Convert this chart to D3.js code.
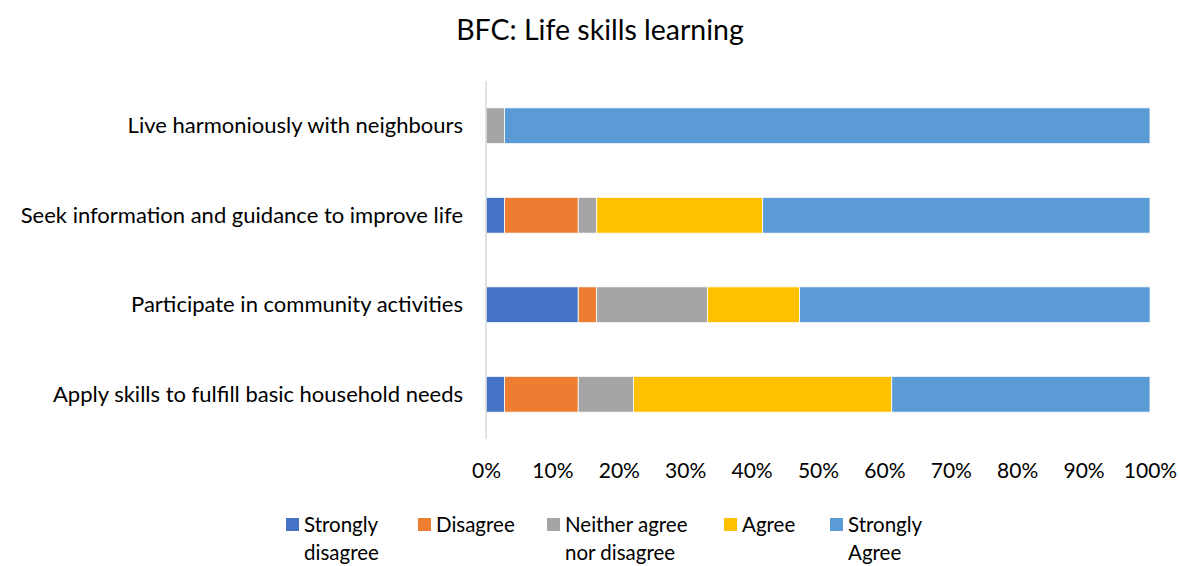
<!DOCTYPE html>
<html>
<head>
<meta charset="utf-8">
<script src="https://cdn.jsdelivr.net/npm/d3@7"></script>
<style>
  html, body { margin: 0; padding: 0; background: #fff; }
  svg { display: block; font-family: Lato, "Open Sans", sans-serif; }
</style>
</head>
<body>
<svg id="chart" width="1179" height="566"></svg>
<script>
// Survey statements (top to bottom) and response shares in percent
const categories = [
  "Live harmoniously with neighbours",
  "Seek information and guidance to improve life",
  "Participate in community activities",
  "Apply skills to fulfill basic household needs"
];
const seriesNames = ["Strongly disagree", "Disagree", "Neither agree nor disagree", "Agree", "Strongly Agree"];
const legendLines = [["Strongly", "disagree"], ["Disagree"], ["Neither agree", "nor disagree"], ["Agree"], ["Strongly", "Agree"]];
const colors = ["#4472C4", "#ED7D31", "#A5A5A5", "#FFC000", "#5B9BD5"];

const stronglyDisagree = [0, 2.78, 13.89, 2.78];
const disagree         = [0, 11.11, 2.78, 11.11];
const neither          = [2.78, 2.78, 16.67, 8.33];
const agree            = [0, 25.00, 13.89, 38.89];
const stronglyAgree    = [97.22, 58.33, 52.78, 38.89];

const tickValues = [0, 10, 20, 30, 40, 50, 60, 70, 80, 90, 100];

const rows = categories.map((c, i) => ({
  category: c,
  "Strongly disagree": stronglyDisagree[i],
  "Disagree": disagree[i],
  "Neither agree nor disagree": neither[i],
  "Agree": agree[i],
  "Strongly Agree": stronglyAgree[i]
}));

const svg = d3.select("#chart");
const margin = { left: 486, right: 29, top: 81, bottom: 127 };
const W = 1179, H = 566;

const x = d3.scaleLinear().domain([0, 100]).range([margin.left, W - margin.right]);
const y = d3.scaleBand().domain(categories).range([margin.top, H - margin.bottom]).paddingInner(0.6).paddingOuter(0.3);

const stack = d3.stack().keys(seriesNames);
const stacked = stack(rows);

// Title
svg.append("text")
  .attr("x", 600).attr("y", 40)
  .attr("text-anchor", "middle")
  .attr("font-size", 28.5)
  .attr("fill", "#000")
  .text("BFC: Life skills learning");

// Stacked bars
svg.append("g").selectAll("g")
  .data(stacked)
  .join("g")
  .attr("fill", (d, i) => colors[i])
  .selectAll("rect")
  .data(d => d.filter(s => s[1] - s[0] > 0))
  .join("rect")
  .attr("x", d => x(d[0]))
  .attr("width", d => x(d[1]) - x(d[0]))
  .attr("y", d => y(d.data.category))
  .attr("height", y.bandwidth())
  .attr("stroke", "#fff")
  .attr("stroke-width", 0.8);

// Vertical category axis line
svg.append("line")
  .attr("x1", x(0)).attr("x2", x(0))
  .attr("y1", margin.top).attr("y2", H - margin.bottom)
  .attr("stroke", "#D9D9D9").attr("stroke-width", 1.5);

// Category labels
svg.append("g").selectAll("text")
  .data(categories)
  .join("text")
  .attr("x", 463)
  .attr("y", d => y(d) + y.bandwidth() / 2)
  .attr("dy", "0.35em")
  .attr("text-anchor", "end")
  .attr("font-size", 22)
  .attr("fill", "#000")
  .text(d => d);

// Percent axis (labels only)
const xAxis = d3.axisBottom(x).tickValues(tickValues).tickFormat(d => d + "%").tickSize(0).tickPadding(0);
const gx = svg.append("g").attr("transform", `translate(0, 478)`).call(xAxis);
gx.select(".domain").remove();
gx.selectAll("text").attr("font-size", 21).attr("fill", "#000").attr("font-family", "Lato, sans-serif").attr("dy", 0);

// Legend
const legendX = [286, 418, 547, 724, 830];
const lg = svg.append("g").selectAll("g")
  .data(seriesNames)
  .join("g")
  .attr("transform", (d, i) => `translate(${legendX[i]}, 0)`);
lg.append("rect")
  .attr("x", 0).attr("y", 518).attr("width", 13).attr("height", 13)
  .attr("fill", (d, i) => colors[i]);
lg.append("text")
  .attr("x", 18)
  .attr("font-size", 20.5)
  .attr("fill", "#000")
  .selectAll("tspan")
  .data((d, i) => legendLines[i])
  .join("tspan")
  .attr("x", 18)
  .attr("y", (d, j) => 532 + j * 28)
  .text(d => d);
</script>
</body>
</html>
